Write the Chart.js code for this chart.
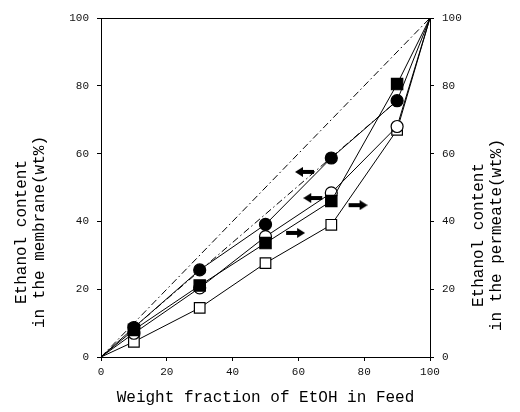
<!DOCTYPE html>
<html><head><meta charset="utf-8">
<script src="https://cdn.jsdelivr.net/npm/chart.js@4/dist/chart.umd.min.js"></script>
<style>html,body{margin:0;padding:0;background:#fff}#wrap{width:520px;height:412px}</style>
</head><body><div id="wrap"><canvas id="c" width="520" height="412"></canvas></div>
<script>
// ---- data ----
const feed = [0, 10, 30, 50, 70, 90, 100];
const membraneCircle = [0, 8.7, 25.7, 39.1, 58.7, 75.6, 100];
const membraneSquare = [0, 8.0, 21.1, 33.6, 46.0, 80.5, 100];
const permeateCircle = [0, 7.0, 20.4, 35.5, 48.4, 68.0, 100];
const permeateSquare = [0, 4.5, 14.5, 27.7, 39.0, 67.0, 100];
const diagonalX = [0, 100];
const diagonalY = [0, 100];
const fitLineX = [10, 90];
const fitLineY = [8.7, 75.6];
const arrowLeftX = [62, 64.5];
const arrowLeftY = [54.6, 46.9];
const arrowRightX = [59, 78];
const arrowRightY = [36.6, 44.8];
const tickValues = [0, 20, 40, 60, 80, 100];
const xTitle = 'Weight fraction of EtOH in Feed';
const leftTitle = ['Ethanol content', 'in the membrane(wt%)'];
const rightTitle = ['Ethanol content', 'in the permeate(wt%)'];

const FONT = "'Liberation Mono', 'DejaVu Sans Mono', monospace";
const pts = (xs, ys) => xs.map((x, i) => ({x, y: ys[i]}));
const radii = (n, r) => feed.map((f, i) => (i === 0 || i === n - 1) ? 0 : r);

function makeArrow(dir) {
  const c = document.createElement('canvas');
  c.width = 20; c.height = 10;
  const g = c.getContext('2d');
  g.fillStyle = '#000';
  g.beginPath();
  if (dir < 0) {
    g.moveTo(0, 5); g.lineTo(8, 0); g.lineTo(8, 3); g.lineTo(19, 3);
    g.lineTo(19, 7); g.lineTo(8, 7); g.lineTo(8, 10);
  } else {
    g.moveTo(20, 5); g.lineTo(12, 0); g.lineTo(12, 3); g.lineTo(1, 3);
    g.lineTo(1, 7); g.lineTo(12, 7); g.lineTo(12, 10);
  }
  g.closePath(); g.fill();
  return c;
}

const series = (label, ys, style, filled, r) => ({
  label, data: pts(feed, ys), showLine: true,
  borderColor: '#000', borderWidth: 1, pointStyle: style,
  pointRadius: radii(feed.length, r), pointHoverRadius: 0,
  pointBackgroundColor: filled ? '#000' : '#fff', pointBorderColor: '#000', pointBorderWidth: 1.2,
  yAxisID: 'y'
});

const dashLine = (label, xs, ys) => ({
  label, data: pts(xs, ys), showLine: true, borderColor: '#000',
  borderWidth: 1, borderDash: [7, 3, 1.5, 3], pointRadius: 0, yAxisID: 'y'
});

const yTitles = {
  id: 'yTitles',
  afterDraw(chart) {
    const ctx = chart.ctx;
    ctx.save();
    ctx.fillStyle = '#000';
    ctx.font = '16px ' + FONT;
    ctx.textAlign = 'center';
    ctx.textBaseline = 'middle';
    [[22, 232, leftTitle], [479, 235, rightTitle]].forEach(([x0, cy, lines]) => {
      lines.forEach((t, i) => {
        ctx.save();
        ctx.translate(x0 + i * 18, cy);
        ctx.rotate(-Math.PI / 2);
        ctx.fillText(t, 0, 0);
        ctx.restore();
      });
    });
    ctx.restore();
  }
};

new Chart(document.getElementById('c'), {
  type: 'scatter',
  data: {
    datasets: [
      dashLine('diagonal', diagonalX, diagonalY),
      dashLine('fit', fitLineX, fitLineY),
      series('membrane circle', membraneCircle, 'circle', true, 6),
      series('membrane square', membraneSquare, 'rect', true, 8),
      series('permeate circle', permeateCircle, 'circle', false, 6),
      series('permeate square', permeateSquare, 'rect', false, 7.5),
      {label: 'arrows left', data: pts(arrowLeftX, arrowLeftY), showLine: false,
       pointStyle: makeArrow(-1), pointRadius: 10, yAxisID: 'y'},
      {label: 'arrows right', data: pts(arrowRightX, arrowRightY), showLine: false,
       pointStyle: makeArrow(1), pointRadius: 10, yAxisID: 'y'}
    ]
  },
  options: {
    responsive: false, animation: false, devicePixelRatio: 1,
    layout: {padding: 0},
    plugins: {legend: {display: false}, tooltip: {enabled: false}},
    scales: {
      x: {
        type: 'linear', position: 'bottom', min: 0, max: 100,
        afterBuildTicks: s => { s.ticks = tickValues.map(v => ({value: v})); },
        afterFit: s => { s.height = 55; },
        ticks: {color: '#111', font: {family: FONT, size: 11}, padding: 4, maxRotation: 0},
        grid: {drawOnChartArea: false, tickLength: 4, color: '#000'},
        border: {color: '#000', width: 1},
        title: {display: true, text: xTitle, color: '#000', font: {family: FONT, size: 16}, padding: {top: 4, bottom: 5}}
      },
      x2: {
        type: 'linear', position: 'top', min: 0, max: 100,
        afterFit: s => { s.height = 18; },
        ticks: {display: false}, grid: {display: false},
        border: {color: '#000', width: 1}
      },
      y: {
        type: 'linear', position: 'left', min: 0, max: 100,
        afterBuildTicks: s => { s.ticks = tickValues.map(v => ({value: v})); },
        afterFit: s => { s.width = 101; },
        ticks: {color: '#111', font: {family: FONT, size: 11}, padding: 8},
        grid: {drawOnChartArea: false, tickLength: 4, color: '#000'},
        border: {color: '#000', width: 1}
      },
      y2: {
        type: 'linear', position: 'right', min: 0, max: 100,
        afterBuildTicks: s => { s.ticks = tickValues.map(v => ({value: v})); },
        afterFit: s => { s.width = 90; },
        ticks: {color: '#111', font: {family: FONT, size: 11}, padding: 8},
        grid: {drawOnChartArea: false, tickLength: 4, color: '#000'},
        border: {color: '#000', width: 1}
      }
    }
  },
  plugins: [yTitles]
});
</script>
</body></html>
